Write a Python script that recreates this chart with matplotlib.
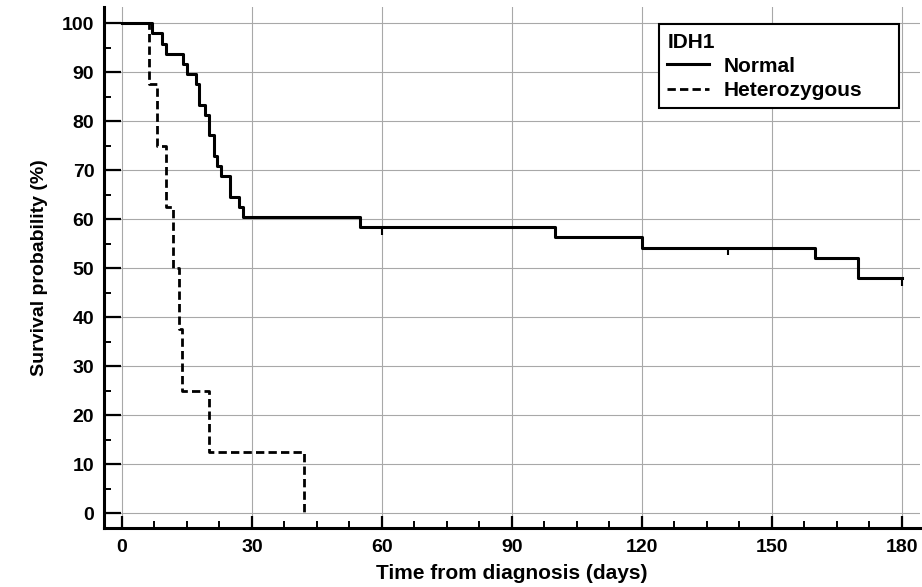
import matplotlib
matplotlib.use("Agg")
from matplotlib import pyplot as plt
from matplotlib.ticker import MultipleLocator

# Kaplan-Meier steps (days, survival %)
normal_t = [0, 6.9, 9.2, 10.1, 14.0, 14.9, 17.2, 17.8, 19.2, 20.0, 21.2, 22.0, 22.8, 24.9, 26.9, 28.0, 55, 100, 120, 160, 170, 180]
normal_s = [100, 97.9, 95.8, 93.8, 91.7, 89.6, 87.5, 83.3, 81.3, 77.1, 72.9, 70.8, 68.8, 64.6, 62.5, 60.4, 58.3, 56.3, 54.2, 52.1, 47.9, 47.9]
hetero_t = [0, 6.2, 8.0, 10.1, 11.8, 13.2, 13.9, 20.0, 42]
hetero_s = [100, 87.5, 75, 62.5, 50, 37.5, 25, 12.5, 0]
# censored observations on the Normal curve
cens_t = [60, 140, 180]
cens_s = [58.3, 54.2, 47.9]

labels = ["Normal", "Heterozygous"]

plt.rcParams['font.family'] = ['Liberation Sans', 'DejaVu Sans']
plt.rcParams['font.weight'] = 'bold'

fig = plt.figure(figsize=(9.22, 5.87), dpi=100)
ax = fig.add_axes([0.1128, 0.1005, 0.885, 0.8875])

h_het, = ax.step(hetero_t, hetero_s, where='post', color='black', lw=2.0,
                 linestyle=(0, (3, 1.5)), label=labels[1], zorder=3)
h_nor, = ax.step(normal_t, normal_s, where='post', color='black', lw=2.2,
                 label=labels[0], zorder=4)
ax.vlines(cens_t, [s - 1.6 for s in cens_s], cens_s, color='black', lw=1.5, zorder=4)

ax.set_xlim(-4.15, 184.2)
ax.set_ylim(-3.06, 103.3)
ax.xaxis.set_major_locator(MultipleLocator(30))
ax.xaxis.set_minor_locator(MultipleLocator(7.5))
ax.yaxis.set_major_locator(MultipleLocator(10))
ax.yaxis.set_minor_locator(MultipleLocator(5))

ax.grid(True, which='major', color='#a8a8a8', lw=0.8)
ax.set_axisbelow(True)

for s in ['top', 'right']:
    ax.spines[s].set_visible(False)
for s in ['left', 'bottom']:
    ax.spines[s].set_linewidth(2.2)

ax.tick_params(axis='y', which='major', direction='in', length=12.5, width=1.6, pad=7, labelsize=14)
ax.tick_params(axis='y', which='minor', direction='in', length=5, width=1.4)
ax.tick_params(axis='x', which='major', direction='in', length=8.6, width=1.6, pad=8, labelsize=14)
ax.tick_params(axis='x', which='minor', direction='in', length=5, width=1.4)
for lab in ax.get_xticklabels() + ax.get_yticklabels():
    lab.set_fontweight('bold')

ax.set_xlabel('Time from diagnosis (days)', fontsize=15, fontweight='bold', labelpad=6)
ax.set_ylabel('Survival probability (%)', fontsize=14, fontweight='bold', labelpad=10)

leg = ax.legend(handles=[h_nor, h_het], title='IDH1', loc='upper left',
                bbox_to_anchor=(0.680, 0.80, 0.294, 0.167), mode='expand',
                borderaxespad=0, fancybox=False, edgecolor='black', framealpha=1,
                prop={'weight': 'bold', 'size': 15}, handlelength=2.0,
                title_fontproperties={'weight': 'bold', 'size': 15},
                alignment='left', labelspacing=0.25, borderpad=0.4,
                handletextpad=0.7)
leg.get_frame().set_linewidth(1.5)

fig.savefig('out.png', dpi=100)
